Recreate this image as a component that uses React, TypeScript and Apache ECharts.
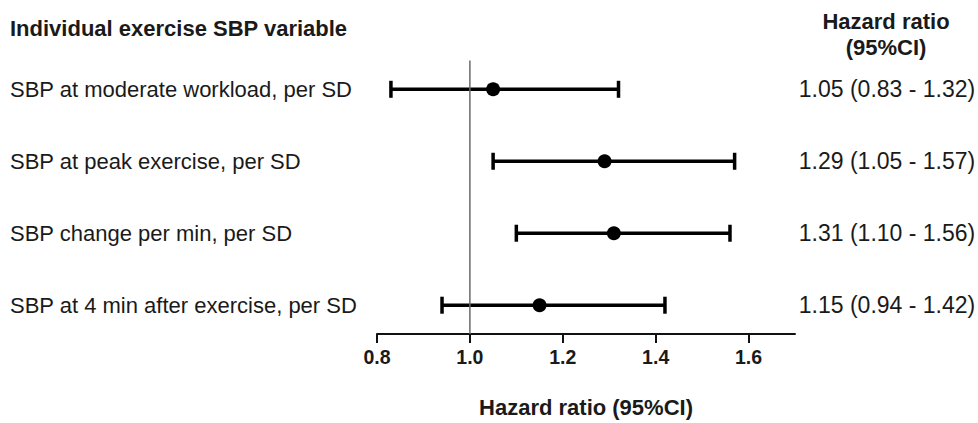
import React, { useEffect, useRef } from "react";
import * as echarts from "echarts";

const categories = [
  "SBP at moderate workload, per SD",
  "SBP at peak exercise, per SD",
  "SBP change per min, per SD",
  "SBP at 4 min after exercise, per SD",
];
const hazardRatio = [1.05, 1.29, 1.31, 1.15];
const ciLow = [0.83, 1.05, 1.1, 0.94];
const ciHigh = [1.32, 1.57, 1.56, 1.42];
const ciText = [
  "1.05 (0.83 - 1.32)",
  "1.29 (1.05 - 1.57)",
  "1.31 (1.10 - 1.56)",
  "1.15 (0.94 - 1.42)",
];
const xTicks = [0.8, 1.0, 1.2, 1.4, 1.6];
const refValue = 1.0;

const FONT = "'Liberation Sans', Arial, sans-serif";

export default function App() {
  const ref = useRef<HTMLDivElement>(null);
  useEffect(() => {
    if (!ref.current) return;
    const chart = echarts.init(ref.current, undefined, { renderer: "svg" });
    const yMin = -0.4;
    const yMax = 3.4;
    chart.setOption({
      animation: false,
      backgroundColor: "#ffffff",
      grid: { left: 377, width: 418, top: 60.5, bottom: 83 },
      xAxis: {
        type: "value",
        min: 0.8,
        max: 1.7,
        interval: 0.2,
        name: "Hazard ratio (95%CI)",
        nameLocation: "middle",
        nameGap: 62,
        nameTextStyle: { fontFamily: FONT, fontWeight: "bold", fontSize: 22, color: "#1a1a1a" },
        axisLine: { show: true, onZero: false, lineStyle: { color: "#111", width: 2 } },
        axisTick: { show: true, length: 9, lineStyle: { color: "#111", width: 2 }, customValues: xTicks },
        axisLabel: {
          customValues: xTicks,
          margin: 13,
          fontFamily: FONT,
          fontWeight: "bold",
          fontSize: 19.5,
          color: "#1a1a1a",
          formatter: (v: number) => v.toFixed(1),
        },
        splitLine: { show: false },
      },
      yAxis: {
        type: "value",
        min: yMin,
        max: yMax,
        inverse: true,
        show: false,
      },
      graphic: [
        {
          type: "text",
          x: 10,
          y: 28,
          style: {
            text: "Individual exercise SBP variable",
            font: `bold 22px ${FONT}`,
            fill: "#1a1a1a",
            verticalAlign: "middle",
          },
        },
        {
          type: "text",
          x: 886,
          y: 21,
          style: {
            text: "Hazard ratio",
            font: `bold 22px ${FONT}`,
            fill: "#1a1a1a",
            align: "center",
            verticalAlign: "middle",
          },
        },
        {
          type: "text",
          x: 886,
          y: 47,
          style: {
            text: "(95%CI)",
            font: `bold 22px ${FONT}`,
            fill: "#1a1a1a",
            align: "center",
            verticalAlign: "middle",
          },
        },
      ],
      series: [
        {
          type: "line",
          data: [
            [refValue, yMin],
            [refValue, yMax],
          ],
          symbol: "none",
          lineStyle: { color: "#6a6a6a", width: 1.5 },
          silent: true,
        },
        {
          type: "custom",
          data: categories.map((c, i) => [ciLow[i], ciHigh[i], i]),
          renderItem: (params: any, api: any) => {
            const i = api.value(2);
            const p1 = api.coord([api.value(0), i]);
            const p2 = api.coord([api.value(1), i]);
            const capH = 8.5;
            const st = { stroke: "#000", lineWidth: 3.5 };
            return {
              type: "group",
              children: [
                { type: "line", shape: { x1: p1[0], y1: p1[1], x2: p2[0], y2: p2[1] }, style: st },
                { type: "line", shape: { x1: p1[0], y1: p1[1] - capH, x2: p1[0], y2: p1[1] + capH }, style: st },
                { type: "line", shape: { x1: p2[0], y1: p2[1] - capH, x2: p2[0], y2: p2[1] + capH }, style: st },
                {
                  type: "text",
                  x: 10,
                  y: p1[1],
                  style: {
                    text: categories[i],
                    font: `22px ${FONT}`,
                    fill: "#1a1a1a",
                    verticalAlign: "middle",
                    align: "left",
                  },
                },
                {
                  type: "text",
                  x: 887,
                  y: p1[1],
                  style: {
                    text: ciText[i],
                    font: `23px ${FONT}`,
                    fill: "#1a1a1a",
                    verticalAlign: "middle",
                    align: "center",
                  },
                },
              ],
            };
          },
          z: 3,
        },
        {
          type: "scatter",
          data: hazardRatio.map((v, i) => [v, i]),
          symbol: "circle",
          symbolSize: 14,
          itemStyle: { color: "#000", opacity: 1 },
          z: 4,
        },
      ],
    });
    return () => chart.dispose();
  }, []);
  return <div ref={ref} style={{ width: 978, height: 423, position: "absolute", left: 0, top: 0 }} />;
}
